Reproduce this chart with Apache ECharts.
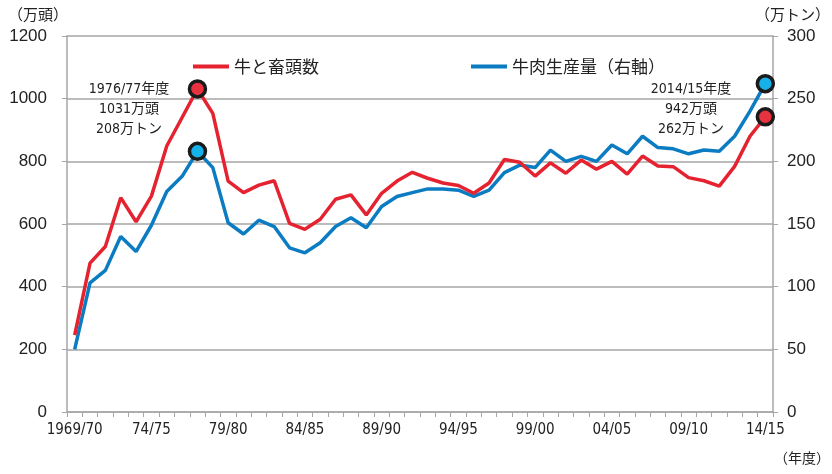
<!DOCTYPE html>
<html><head><meta charset="utf-8">
<script src="https://cdn.jsdelivr.net/npm/echarts@6/dist/echarts.min.js"></script>
<style>html,body{margin:0;padding:0;background:#fff}#c{width:832px;height:474px}</style>
</head><body><div id="c"></div>
<script>
const years = [];
for (let y = 1969; y <= 2014; y++) {
  const a = String(y % 100).padStart(2, '0'), b = String((y + 1) % 100).padStart(2, '0');
  years.push(y === 1969 ? '1969/' + b : a + '/' + b);
}
const slaughter = [245,475,528,684,607,689,849,940,1031,953,737,700,724,738,602,583,615,679,693,629,698,737,765,746,731,723,698,731,806,797,753,795,762,804,775,800,759,817,785,783,748,738,721,784,880,942];
const production = [50,103,113,140,128,149,176,188,208,195,151,142,153,148,131,127,135,148,155,147,164,172,175,178,178,177,172,177,191,197,195,209,200,204,200,213,206,220,211,210,206,209,208,220,240,262];
const leftTicks = [0,200,400,600,800,1000,1200];
const rightTicks = [0,50,100,150,200,250,300];
const highlightIdx = [8, 45];
const nameA = '牛と畜頭数', nameB = '牛肉生産量（右軸）';

const CJK = '"Noto Sans CJK JP", sans-serif';
const NUM = '"Liberation Sans", Arial, sans-serif';
const NARROW = '"Liberation Sans Narrow", "DejaVu Sans Condensed", "Noto Sans CJK JP", sans-serif';

function build(vals, fill) {
  return vals.map((v, i) => highlightIdx.includes(i)
    ? { value: v, symbol: 'circle', symbolSize: 16, itemStyle: { color: fill, borderColor: '#1a1a1a', borderWidth: 3.5 } }
    : { value: v, symbol: 'none' });
}
const chart = echarts.init(document.getElementById('c'), null, { renderer: 'canvas' });
const gray = '#a6a6a6';
chart.setOption({
  animation: false,
  grid: { left: 67, right: 59, top: 36, bottom: 62 },
  legend: [
    { data: [nameA], left: 188, top: 53, itemWidth: 36, itemHeight: 4, icon: 'rect', itemGap: 0,
      textStyle: { fontFamily: CJK, fontSize: 17, color: '#222' } },
    { data: [nameB], left: 466, top: 53, itemWidth: 36, itemHeight: 4, icon: 'rect',
      textStyle: { fontFamily: CJK, fontSize: 17, color: '#222' } }
  ],
  xAxis: {
    type: 'category', data: years, boundaryGap: true,
    axisLine: { lineStyle: { color: gray, width: 1.5 } },
    axisTick: { show: true, interval: 0, length: 5, lineStyle: { color: gray } },
    axisLabel: { interval: 4, margin: 11, fontSize: 15, color: '#222', fontFamily: NARROW }
  },
  yAxis: [
    { type: 'value', min: leftTicks[0], max: leftTicks[leftTicks.length - 1], interval: 200,
      axisLine: { show: true, lineStyle: { color: gray, width: 1.5 } },
      axisTick: { show: true, length: 5, lineStyle: { color: gray } },
      splitLine: { lineStyle: { color: gray, width: 1.5 } },
      axisLabel: { margin: 20, fontSize: 17, color: '#222', fontFamily: NUM, formatter: v => String(v) } },
    { type: 'value', min: rightTicks[0], max: rightTicks[rightTicks.length - 1], interval: 50, position: 'right',
      axisLine: { show: true, lineStyle: { color: gray, width: 1.5 } },
      axisTick: { show: true, length: 5, lineStyle: { color: gray } },
      splitLine: { show: false },
      axisLabel: { margin: 14, fontSize: 17, color: '#222', fontFamily: NUM, formatter: v => String(v) } }
  ],
  series: [
    { name: nameA, type: 'line', yAxisIndex: 0, symbol: 'none', showAllSymbol: true, z: 3,
      lineStyle: { color: '#e52330', width: 3.5 }, itemStyle: { color: '#e52330' },
      data: build(slaughter, '#e8323f') },
    { name: nameB, type: 'line', yAxisIndex: 1, symbol: 'none', showAllSymbol: true, z: 2,
      lineStyle: { color: '#0b7cc2', width: 3.5 }, itemStyle: { color: '#0b7cc2' },
      data: build(production, '#14b2e8') }
  ],
  graphic: [
    { type: 'text', left: 8, top: 7, style: { text: '（万頭）', font: '15px ' + CJK, fill: '#222' } },
    { type: 'text', right: 2, top: 7, style: { text: '（万トン）', font: '15px ' + CJK, fill: '#222' } },
    { type: 'text', right: 2, top: 452, style: { text: '（年度）', font: '14px ' + NARROW, fill: '#222' } },
    { type: 'text', x: 129, y: 89, style: { text: '1976/77年度', font: '14px ' + NARROW, fill: '#222', align: 'center', verticalAlign: 'middle' } },
    { type: 'text', x: 129, y: 109, style: { text: '1031万頭', font: '14px ' + NARROW, fill: '#222', align: 'center', verticalAlign: 'middle' } },
    { type: 'text', x: 129, y: 129, style: { text: '208万トン', font: '14px ' + NARROW, fill: '#222', align: 'center', verticalAlign: 'middle' } },
    { type: 'text', x: 691, y: 89, style: { text: '2014/15年度', font: '14px ' + NARROW, fill: '#222', align: 'center', verticalAlign: 'middle' } },
    { type: 'text', x: 691, y: 109, style: { text: '942万頭', font: '14px ' + NARROW, fill: '#222', align: 'center', verticalAlign: 'middle' } },
    { type: 'text', x: 691, y: 129, style: { text: '262万トン', font: '14px ' + NARROW, fill: '#222', align: 'center', verticalAlign: 'middle' } }
  ]
});
</script></body></html>
